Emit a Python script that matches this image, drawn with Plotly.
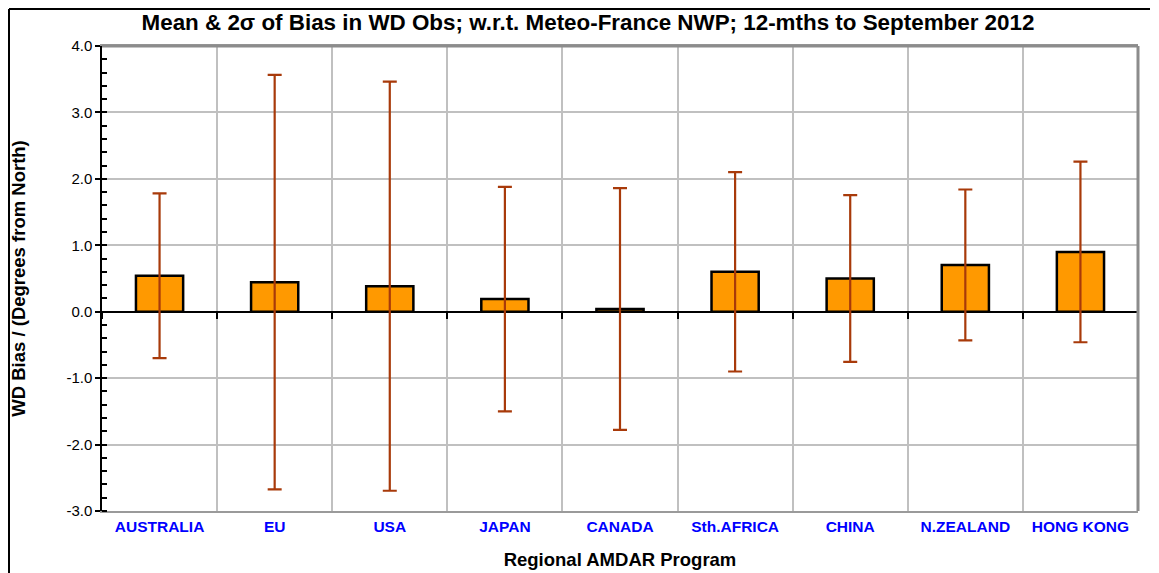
import plotly.graph_objects as go

categories = ["AUSTRALIA", "EU", "USA", "JAPAN", "CANADA", "Sth.AFRICA", "CHINA", "N.ZEALAND", "HONG KONG"]
mean_bias = [0.54, 0.445, 0.385, 0.19, 0.04, 0.60, 0.50, 0.705, 0.90]
two_sigma = [1.24, 3.12, 3.08, 1.69, 1.82, 1.50, 1.255, 1.135, 1.36]
y_ticks = [-3, -2, -1, 0, 1, 2, 3, 4]
y_tick_text = [f"{v:.1f}" for v in y_ticks]

# page body has an 8px margin, so the figure is sized to fit the window
W, H = 1151, 565
L, R, T, B = 94, 21, 38, 62
pw, ph = W - L - R, H - T - B
FONT = "Liberation Sans, Arial, sans-serif"

fig = go.Figure()
fig.add_trace(go.Bar(
    x=categories, y=mean_bias, width=0.41,
    marker=dict(color="#FF9900", line=dict(color="black", width=2.5)),
    error_y=dict(type="data", array=two_sigma, symmetric=True,
                 color="#A83A0A", thickness=2.2, width=7),
    showlegend=False, hoverinfo="x+y",
))
# helper trace for the zero-crossing x axis with ticks
fig.add_trace(go.Scatter(x=categories, y=mean_bias, xaxis="x2", mode="markers",
                         marker=dict(size=0.1, opacity=0), showlegend=False, hoverinfo="skip"))

fig.update_layout(
    width=W, height=H,
    margin=dict(l=L, r=R, t=T, b=B, autoexpand=False),
    paper_bgcolor="white", plot_bgcolor="white",
    font=dict(family=FONT, color="black"),
    title=dict(text="<b>Mean &amp; 2σ of Bias in WD Obs; w.r.t. Meteo-France NWP; 12-mths to September 2012</b>",
               x=580 / W, xanchor="center", y=1 - 14 / H, yanchor="middle",
               font=dict(size=22.4, color="black", family=FONT)),
    xaxis=dict(type="category", tickson="boundaries", showgrid=True, gridcolor="#C0C0C0", gridwidth=1.5,
               showline=True, linecolor="#9A9A9A", linewidth=2, mirror=True,
               ticks="outside", ticklen=5, tickcolor="rgba(0,0,0,0)",
               tickfont=dict(size=15.5, color="#0000FF", family=FONT, weight="bold"),
               range=[-0.5, 8.5], automargin=False,
               title=dict(text="<b>Regional AMDAR Program</b>", font=dict(size=18.5, family=FONT), standoff=19)),
    xaxis2=dict(type="category", overlaying="x", matches="x", anchor="free", position=3 / 7,
                tickson="boundaries", ticks="outside", ticklen=6, tickwidth=1.5, tickcolor="black",
                showticklabels=False, showgrid=False, showline=False, zeroline=False),
    yaxis=dict(range=[-3, 4], tickvals=y_ticks, ticktext=y_tick_text, showgrid=True, gridcolor="#C0C0C0",
               gridwidth=1.5, showline=True, linecolor="black", linewidth=1.5, ticks="outside",
               ticklen=5, tickwidth=1.5, tickcolor="black", tickfont=dict(size=15, family=FONT),
               zeroline=True, zerolinecolor="black", zerolinewidth=1.5,
               minor=dict(dtick=0.2, ticks="inside", ticklen=5, tickwidth=1.5, tickcolor="black", showgrid=False),
               automargin=False,
               title=dict(text="<b>WD Bias / (Degrees from North)</b>", font=dict(size=18.5, family=FONT), standoff=38)),
    shapes=[
        dict(type="line", xref="paper", yref="paper", x0=1, x1=1, y0=0, y1=1,
             line=dict(color="#8C8C8C", width=3)),
        dict(type="line", xref="paper", yref="paper", x0=0, x1=1, y0=1, y1=1,
             line=dict(color="#8C8C8C", width=3)),
        # outer chart frame (left and top edges)
        dict(type="line", xref="paper", yref="paper",
             x0=(1 - L) / pw, x1=(1 - L) / pw, y0=(B - H) / ph, y1=(H - B - 1) / ph,
             line=dict(color="black", width=2)),
        dict(type="line", xref="paper", yref="paper",
             x0=(1 - L) / pw, x1=(1142 - L) / pw, y0=(H - B - 1) / ph, y1=(H - B - 1) / ph,
             line=dict(color="black", width=2)),
    ],
)
fig.write_html("out.html")
